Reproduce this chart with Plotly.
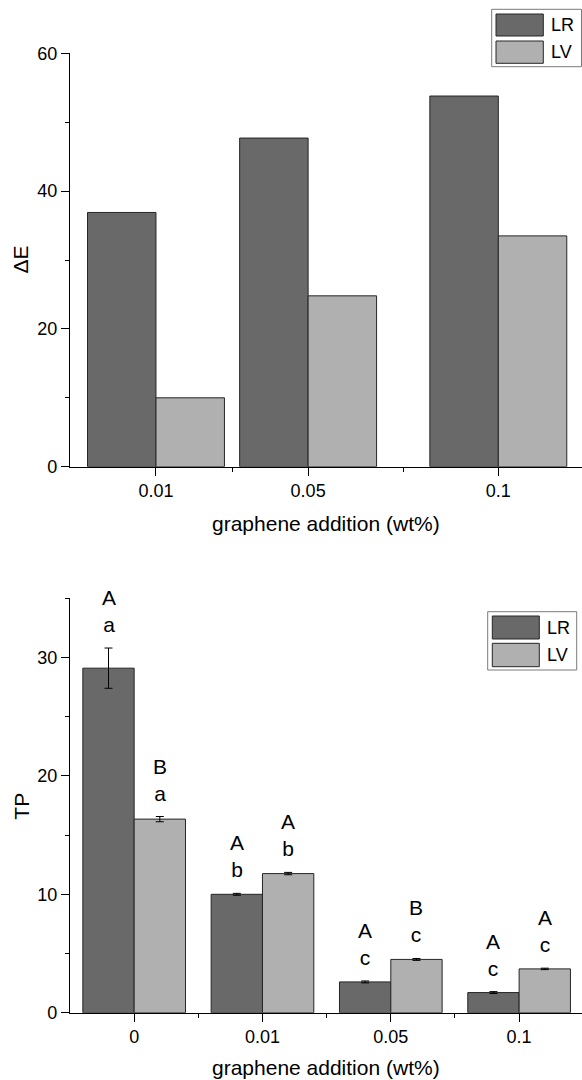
import plotly.graph_objects as go

# ---------------- data: top chart (ΔE) ----------------
de_x = [0.01, 0.05, 0.1]
de_ticklabels = ["0.01", "0.05", "0.1"]
de_LR = [36.9, 47.7, 53.8]
de_LV = [10.0, 24.8, 33.5]

# ---------------- data: bottom chart (TP) ----------------
tp_categories = ["0", "0.01", "0.05", "0.1"]
tp_LR = [29.1, 10.0, 2.6, 1.7]
tp_LR_err = [1.7, 0.08, 0.08, 0.08]
tp_LV = [16.35, 11.75, 4.5, 3.7]
tp_LV_err = [0.22, 0.1, 0.08, 0.06]
tp_LR_upper = ["A", "A", "A", "A"]
tp_LR_lower = ["a", "b", "c", "c"]
tp_LV_upper = ["B", "A", "B", "A"]
tp_LV_lower = ["a", "b", "c", "c"]

series_names = ["LR", "LV"]
x_title = "graphene addition (wt%)"

# ---------------- style ----------------
W, H = 582, 1080
FONT = "Arial, 'Liberation Sans', Helvetica, sans-serif"
COL_LR = "#696969"
COL_LV = "#b0b0b0"
EDGE = "#262626"
AX = "black"


def px(x):
    return x / W


def py(y):
    return 1 - y / H


fig = go.Figure()

# top chart bars
de_w = 0.018
fig.add_trace(go.Bar(x=de_x, y=de_LR, name=series_names[0], width=de_w, offset=-de_w,
                     marker=dict(color=COL_LR, line=dict(color=EDGE, width=1)),
                     xaxis="x", yaxis="y", showlegend=False))
fig.add_trace(go.Bar(x=de_x, y=de_LV, name=series_names[1], width=de_w, offset=0,
                     marker=dict(color=COL_LV, line=dict(color=EDGE, width=1)),
                     xaxis="x", yaxis="y", showlegend=False))

# bottom chart bars
tp_pos = list(range(len(tp_categories)))
tp_w = 0.4
fig.add_trace(go.Bar(x=tp_pos, y=tp_LR, name=series_names[0], width=tp_w, offset=-tp_w,
                     marker=dict(color=COL_LR, line=dict(color=EDGE, width=1)),
                     error_y=dict(type="data", array=tp_LR_err, color="black", thickness=1, width=4),
                     xaxis="x2", yaxis="y2", showlegend=False))
fig.add_trace(go.Bar(x=tp_pos, y=tp_LV, name=series_names[1], width=tp_w, offset=0,
                     marker=dict(color=COL_LV, line=dict(color=EDGE, width=1)),
                     error_y=dict(type="data", array=tp_LV_err, color="black", thickness=1, width=4),
                     xaxis="x2", yaxis="y2", showlegend=False))

# significance letters
annotations = []
for i in tp_pos:
    for vals, errs, up, lo, off in [(tp_LR, tp_LR_err, tp_LR_upper, tp_LR_lower, -tp_w / 2),
                                    (tp_LV, tp_LV_err, tp_LV_upper, tp_LV_lower, tp_w / 2)]:
        annotations.append(dict(x=i + off, y=vals[i] + errs[i], xref="x2", yref="y2",
                                text=f"{up[i]}<br>{lo[i]}", showarrow=False,
                                yanchor="bottom", xanchor="center", yshift=10,
                                font=dict(family=FONT, size=21, color="black")))

# axis titles as annotations
title_font = dict(family=FONT, size=21, color="black")
annotations += [
    dict(x=px(326), y=py(523), xref="paper", yref="paper", text=x_title, showarrow=False,
         xanchor="center", yanchor="middle", font=title_font),
    dict(x=px(326), y=py(1067), xref="paper", yref="paper", text=x_title, showarrow=False,
         xanchor="center", yanchor="middle", font=title_font),
    dict(x=px(20.5), y=py(260), xref="paper", yref="paper", text="ΔE", showarrow=False,
         textangle=-90, xanchor="center", yanchor="middle", font=title_font),
    dict(x=px(20.7), y=py(806), xref="paper", yref="paper", text="TP", showarrow=False,
         textangle=-90, xanchor="center", yanchor="middle", font=title_font),
]

# custom legends (large swatches)
shapes = []


def add_legend(x0, y0, x1, y1, sx0, sx1, sw_rows, tx):
    shapes.append(dict(type="rect", xref="paper", yref="paper",
                       x0=px(x0), x1=px(x1), y0=py(y1), y1=py(y0),
                       line=dict(color="#7a7a7a", width=1), fillcolor="white", layer="above"))
    for (r0, r1), col, name in zip(sw_rows, [COL_LR, COL_LV], series_names):
        shapes.append(dict(type="rect", xref="paper", yref="paper",
                           x0=px(sx0), x1=px(sx1), y0=py(r1), y1=py(r0),
                           line=dict(color=EDGE, width=1), fillcolor=col, layer="above"))
        annotations.append(dict(x=px(tx), y=py((r0 + r1) / 2), xref="paper", yref="paper",
                                text=name, showarrow=False, xanchor="left", yanchor="middle",
                                font=dict(family=FONT, size=18, color="black")))


add_legend(491.7, 9.3, 581.5, 66.7, 496, 543.3, [(14, 36), (41, 63.3)], 549)
add_legend(487.7, 611.7, 576.7, 670, 492.3, 539.3, [(616, 639), (643.3, 666.7)], 544.5)

tick_font = dict(family=FONT, size=18, color="black")
axis_common = dict(showline=True, linecolor=AX, linewidth=1.3, ticks="outside", ticklen=8,
                   tickwidth=1.3, tickcolor=AX, showgrid=False, zeroline=False,
                   tickfont=tick_font, automargin=False)

x_dom = [px(70), 1]
fig.update_layout(
    width=W, height=H, margin=dict(l=0, r=0, t=0, b=0),
    paper_bgcolor="white", plot_bgcolor="white",
    barmode="overlay",
    xaxis=dict(domain=x_dom, anchor="y", range=[-0.0126, 0.1220],
               tickmode="array", tickvals=de_x, ticktext=de_ticklabels,
               minor=dict(tickmode="array",
                          tickvals=[(a + b) / 2 for a, b in zip(de_x[:-1], de_x[1:])],
                          ticks="outside", ticklen=4, tickwidth=1.3, tickcolor=AX),
               **axis_common),
    yaxis=dict(domain=[py(466.7), py(53.3)], anchor="x", range=[0, 60],
               tickmode="linear", tick0=0, dtick=20,
               minor=dict(dtick=10, ticks="outside", ticklen=4, tickwidth=1.3, tickcolor=AX),
               **axis_common),
    xaxis2=dict(domain=x_dom, anchor="y2", range=[-0.5, 3.49],
                tickmode="array", tickvals=tp_pos, ticktext=tp_categories,
                minor=dict(tickmode="array", tickvals=[p + 0.5 for p in tp_pos[:-1]],
                           ticks="outside", ticklen=4, tickwidth=1.3, tickcolor=AX),
                **axis_common),
    yaxis2=dict(domain=[py(1012.7), py(598.3)], anchor="x2", range=[0, 35],
                tickmode="linear", tick0=0, dtick=10,
                minor=dict(dtick=5, ticks="outside", ticklen=4, tickwidth=1.3, tickcolor=AX),
                **axis_common),
    annotations=annotations,
    shapes=shapes,
    font=dict(family=FONT, color="black"),
)

fig.write_html("out.html")
